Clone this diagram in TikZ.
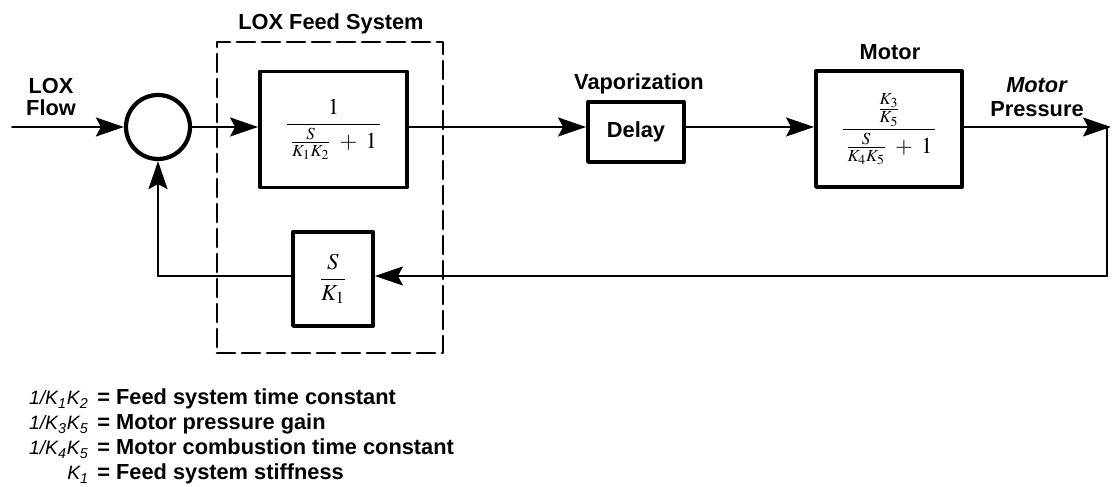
\documentclass[tikz,border=0pt]{standalone}
\usepackage{amsmath}
\usepackage{mathptmx}
\usepackage{fontspec}
\setsansfont{Liberation Sans}
\usepackage{tikz}
\usetikzlibrary{arrows.meta}
\newcommand{\lblfont}{\sffamily\bfseries\fontsize{12.4}{14}\selectfont}
\newcommand{\keyfont}{\sffamily\itshape\fontsize{11}{13}\selectfont}

\begin{document}
\begin{tikzpicture}[line cap=round,line join=round,>={Stealth[length=0.56cm,width=0.38cm,inset=0.1cm]},x=1cm,y=1cm,
  block/.style={draw,line width=2.2pt,inner sep=0pt,font=\fontsize{13}{15}\selectfont},
  lbl/.style={font=\lblfont,align=center,inner sep=0pt},
  key/.style={font=\keyfont,inner sep=0pt},
  conn/.style={line width=1.1pt}]
\useasboundingbox (0,0) rectangle (22.24,9.74);
% forward path
\node [circle,draw,line width=2.4pt,minimum size=1.28cm,inner sep=0pt] (sum) at (3.16,7.2) {};
\node [draw,line width=1.6pt,dash pattern=on 0.36cm off 0.14cm,minimum width=4.52cm,minimum height=6.22cm] (lfs) at (6.6,5.79) {};
\node [block,minimum width=2.94cm,minimum height=2.32cm] (feed) at (6.67,7.15) {$\dfrac{1}{\,\frac{S}{K_1K_2}\;+\;1\,}$};
\node [block,minimum width=1.92cm,minimum height=1.2cm] (delay) at (12.72,7.1) {\lblfont Delay};
\node [block,minimum width=2.92cm,minimum height=2.32cm] (motor) at (17.78,7.16) {$\dfrac{\frac{K_3}{K_5}}{\,\frac{S}{K_4K_5}\;+\;1\,}$};
\node [block,minimum width=1.6cm,minimum height=1.88cm] (fback) at (6.66,4.16) {$\dfrac{S}{K_1}$};
\coordinate (in) at (0.24,7.2);
\coordinate (out) at (22.22,7.2);
\coordinate (rtop) at (22.14,7.2);
\coordinate (rbot) at (22.14,4.22);
\coordinate (lbot) at (3.16,4.22);
\draw [conn,->] (in) -- (sum.west);
\draw [conn,->] (sum.east) -- (sum.east -| feed.west);
\draw [conn,->] (sum.east -| feed.east) -- (sum.east -| delay.west);
\draw [conn,->] (sum.east -| delay.east) -- (sum.east -| motor.west);
\draw [conn,->] (sum.east -| motor.east) -- (out);
% feedback path
\draw [conn] (rtop) -- (rbot);
\draw [conn,->] (rbot) -- (rbot -| fback.east);
\draw [conn] (lbot -| fback.west) -- (lbot);
\draw [conn,->] (lbot) -- (sum.south);
% labels
\node [lbl,anchor=north,font=\sffamily\bfseries\fontsize{12.4}{12.6}\selectfont] (lflow) at (1.02,8.18) {LOX\\Flow};
\node [lbl,anchor=base] (lfstxt) at (6.62,9.14) {LOX Feed System};
\node [lbl,anchor=base] (vap) at (12.78,7.94) {Vaporization};
\node [lbl,anchor=base] (mot) at (17.8,8.54) {Motor};
\node [lbl,anchor=north] (mpres) at (20.74,8.2) {\textit{Motor}\\Pressure};
% key
\node [key,anchor=base east] (k12) at (1.78,1.64) {1/K\textsubscript{1}K\textsubscript{2}};
\node [key,anchor=base east] (k35) at (1.78,1.14) {1/K\textsubscript{3}K\textsubscript{5}};
\node [key,anchor=base east] (k45) at (1.78,0.64) {1/K\textsubscript{4}K\textsubscript{5}};
\node [key,anchor=base west] (k1) at (1.34,0.14) {K\textsubscript{1}};
\node [lbl,anchor=base west] (k12t) at (1.94,1.64) {= Feed system time constant};
\node [lbl,anchor=base west] (k35t) at (1.94,1.14) {= Motor pressure gain};
\node [lbl,anchor=base west] (k45t) at (1.94,0.64) {= Motor combustion time constant};
\node [lbl,anchor=base west] (k1t) at (1.94,0.14) {= Feed system stiffness};
\end{tikzpicture}
\end{document}
